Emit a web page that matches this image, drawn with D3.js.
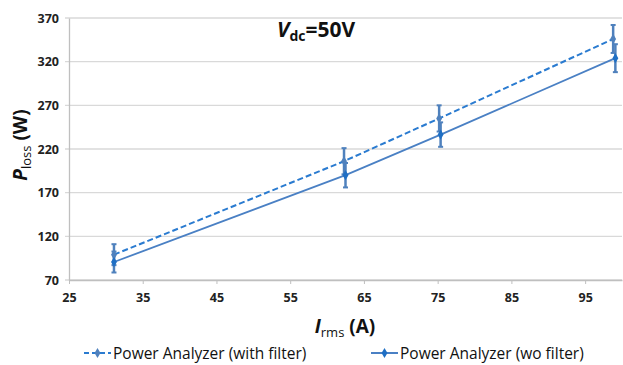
<!DOCTYPE html>
<html><head><meta charset="utf-8">
<script src="https://cdn.jsdelivr.net/npm/d3@7"></script>
<style>body{margin:0;background:#fff}svg{display:block}</style>
</head><body>
<svg id="c" width="623" height="365"></svg>
<script>
const xTicks = [25,35,45,55,65,75,85,95];
const yTicks = [70,120,170,220,270,320,370];
const withFilterX = [31.1, 62.3, 75.2, 98.8];
const withFilterY = [99, 206, 255, 346];
const withFilterErr = [12, 15, 15, 16];
const woFilterX = [31.1, 62.5, 75.4, 99.1];
const woFilterY = [90.6, 190, 236.5, 324];
const woFilterErr = [12, 14, 14, 16];
const seriesNames = ["Power Analyzer (with filter)", "Power Analyzer (wo filter)"];

const svg = d3.select("#c");
const L=69, R=622, T=18, B=280;
const x = d3.scaleLinear().domain([25,100]).range([L,R]);
const y = d3.scaleLinear().domain([70,370]).range([B,T]);
const font = "'Open Sans', 'Noto Sans', sans-serif";

// gridlines
svg.append("g").selectAll("line").data(yTicks).join("line")
  .attr("x1",L-4).attr("x2",R).attr("y1",d=>y(d)).attr("y2",d=>y(d))
  .attr("stroke","#d9d9d9").attr("stroke-width",1.3);

// y axis
const ya = svg.append("g").attr("transform",`translate(${L},0)`)
  .call(d3.axisLeft(y).tickValues(yTicks).tickSize(0).tickPadding(10));
ya.select(".domain").attr("stroke","#bfbfbf").attr("stroke-width",1.3);
ya.selectAll("text").attr("font-family",font).attr("font-weight","bold").attr("font-size",12.5).attr("fill","#222");

// x axis
const xa = svg.append("g").attr("transform",`translate(0,${B})`)
  .call(d3.axisBottom(x).tickValues(xTicks).tickSize(4).tickSizeOuter(0).tickPadding(9));
xa.select(".domain").attr("stroke","#bfbfbf").attr("stroke-width",1.3);
xa.selectAll(".tick line").attr("stroke","#bfbfbf");
xa.selectAll("text").attr("font-family",font).attr("font-weight","bold").attr("font-size",12.5).attr("fill","#222");

const s1 = withFilterX.map((v,i)=>({x:v,y:withFilterY[i],e:withFilterErr[i]}));
const s2 = woFilterX.map((v,i)=>({x:v,y:woFilterY[i],e:woFilterErr[i]}));
const line = d3.line().x(d=>x(d.x)).y(d=>y(d.y));
const c1 = "#2a7bd0", c2 = "#4a80c4", ce = "#4f81bd";

svg.append("path").attr("d",line(s1)).attr("fill","none").attr("stroke",c1).attr("stroke-width",2).attr("stroke-dasharray","6,3");
svg.append("path").attr("d",line(s2)).attr("fill","none").attr("stroke",c2).attr("stroke-width",1.8);

function errBars(data){
  const g = svg.append("g");
  data.forEach(d=>{
    g.append("line").attr("x1",x(d.x)).attr("x2",x(d.x)).attr("y1",y(d.y-d.e)).attr("y2",y(d.y+d.e)).attr("stroke",ce).attr("stroke-width",2.5);
    [d.y-d.e,d.y+d.e].forEach(v=>g.append("line").attr("x1",x(d.x)-2.5).attr("x2",x(d.x)+2.5).attr("y1",y(v)).attr("y2",y(v)).attr("stroke",ce).attr("stroke-width",2));
  });
}
errBars(s1); errBars(s2);

const diamond = d3.symbol().type(d3.symbolDiamond).size(30);
svg.append("g").selectAll("path").data(s1).join("path").attr("d",diamond).attr("transform",d=>`translate(${x(d.x)},${y(d.y)})`).attr("fill",ce);
svg.append("g").selectAll("path").data(s2).join("path").attr("d",diamond).attr("transform",d=>`translate(${x(d.x)},${y(d.y)})`).attr("fill","#1f6fc4");

// annotation
const ann = svg.append("text").attr("x",277).attr("y",37).attr("font-family",font).attr("font-weight","bold").attr("font-size",21).attr("fill","#111");
ann.append("tspan").attr("font-style","italic").text("V");
ann.append("tspan").attr("font-size",14).attr("dy",4).text("dc");
ann.append("tspan").attr("dy",-4).text("=50V");

// x title
const xt = svg.append("text").attr("x",345).attr("y",333).attr("text-anchor","middle").attr("font-family",font).attr("font-weight","bold").attr("font-size",19).attr("fill","#111");
xt.append("tspan").attr("font-style","italic").text("I");
xt.append("tspan").attr("font-size",13).attr("font-weight","normal").attr("dy",4).text("rms");
xt.append("tspan").attr("dy",-4).text(" (A)");

// y title
const yt = svg.append("text").attr("transform","translate(27,145) rotate(-90)").attr("text-anchor","middle").attr("font-family",font).attr("font-weight","bold").attr("font-size",19).attr("fill","#111");
yt.append("tspan").attr("font-style","italic").text("P");
yt.append("tspan").attr("font-size",13).attr("font-weight","normal").attr("dy",4).text("loss");
yt.append("tspan").attr("dy",-4).text(" (W)");

// legend
const lg = [{x:84, dash:"5,3", col:c1, mk:ce, name:seriesNames[0]},{x:371, dash:null, col:c2, mk:"#1f6fc4", name:seriesNames[1]}];
lg.forEach(l=>{
  svg.append("line").attr("x1",l.x).attr("x2",l.x+27).attr("y1",353).attr("y2",353).attr("stroke",l.col).attr("stroke-width",2).attr("stroke-dasharray",l.dash);
  svg.append("path").attr("d",diamond).attr("transform",`translate(${l.x+13.5},353)`).attr("fill",l.mk);
  svg.append("text").attr("x",l.x+29).attr("y",358.5).attr("font-family",font).attr("font-size",15.5).attr("fill","#111").text(l.name);
});
</script>
</body></html>
